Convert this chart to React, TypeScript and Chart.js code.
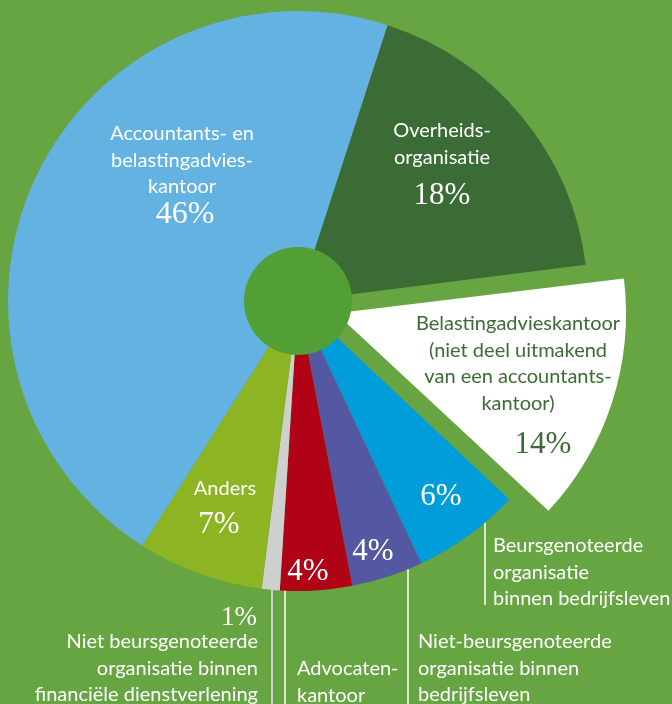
import { useEffect, useRef } from "react";
import { Chart, registerables } from "chart.js";

Chart.register(...registerables);

// ---- data ----
const categories = [
  "Accountants- en belastingadvieskantoor",
  "Overheidsorganisatie",
  "Belastingadvieskantoor (niet deel uitmakend van een accountantskantoor)",
  "Beursgenoteerde organisatie binnen bedrijfsleven",
  "Niet-beursgenoteerde organisatie binnen bedrijfsleven",
  "Advocatenkantoor",
  "Niet beursgenoteerde organisatie binnen financiële dienstverlening",
  "Anders",
];
const shares = [46, 18, 14, 6, 4, 4, 1, 7];
const percentLabels = ["46%", "18%", "14%", "6%", "4%", "4%", "1%", "7%"];
const labelLines = [
  ["Accountants- en", "belastingadvies-", "kantoor"],
  ["Overheids-", "organisatie"],
  ["Belastingadvieskantoor", "(niet deel uitmakend", "van een accountants-", "kantoor)"],
  ["Beursgenoteerde", "organisatie", "binnen bedrijfsleven"],
  ["Niet-beursgenoteerde", "organisatie binnen", "bedrijfsleven"],
  ["Advocaten-", "kantoor"],
  ["Niet beursgenoteerde", "organisatie binnen", "financiële dienstverlening"],
  ["Anders"],
];

// ---- styles / layout ----
const sliceColors = ["#63b2e2", "#3b6c35", "#ffffff", "#009ddb", "#5458a2", "#b00315", "#cdd0cf", "#8cb423"];
const sliceOffsets = [0, 0, 160, 0, 0, 0, 0, 0];
const textColors = ["#ffffff", "#ffffff", "#3b6c35", "#ffffff", "#ffffff", "#ffffff", "#ffffff", "#ffffff"];
const BG = "#67a542";
const HOLE = "#529f35";
const SANS = "Lato, 'Open Sans', sans-serif";
const SERIF = "'Liberation Serif', 'DejaVu Serif', serif";
const LINE_H = 26.5;
const PIE_R = 290;

// text positions relative to pie centre: [dx, dy of first baseline, align]
const textPlacement: [number, number, CanvasTextAlign][] = [
  [-116, -161, "center"],
  [144, -164, "center"],
  [220, 29, "center"],
  [195, 251, "left"],
  [120, 347, "left"],
  [-1, 374, "left"],
  [-40, 347, "right"],
  [-73, 194, "center"],
];
// percent positions relative to pie centre: [dx, dy baseline, align, size]
const pctPlacement: [number, number, CanvasTextAlign, number][] = [
  [-113, -78, "center", 32],
  [144, -97, "center", 31],
  [245, 152, "center", 31],
  [143, 204, "center", 31],
  [75, 259, "center", 31],
  [10, 279, "center", 31],
  [-41, 324, "right", 27],
  [-79, 232, "center", 31],
];
// leader lines: [dx from centre, end y (absolute, null = bottom), colour, width]
const leaders: [number, number | null, string, number][] = [
  [-26, null, "#cdd0cf", 2],
  [-13, null, "#ffffff", 1.5],
  [110, null, "#ffffff", 1.5],
  [187, 605, "#ffffff", 1.5],
];

const decorPlugin = {
  id: "decor",
  beforeDraw(chart: any) {
    const { ctx, width, height } = chart;
    ctx.save();
    ctx.fillStyle = BG;
    ctx.fillRect(0, 0, width, height);
    ctx.restore();
  },
  beforeDatasetsDraw(chart: any) {
    // keep exploded slices at the same outer radius as the rest
    chart.getDatasetMeta(0).data.forEach((el: any, i: number) => {
      const off = sliceOffsets[i] || 0;
      if (!off) return;
      const circ = el.endAngle - el.startAngle;
      const fix = 1 - Math.sin(Math.min(Math.PI, circ));
      el.outerRadius = PIE_R - (off / 4) * fix;
    });
  },
  afterDatasetsDraw(chart: any) {
    const { ctx, height } = chart;
    const arc = chart.getDatasetMeta(0).data[0];
    const cx = arc.x;
    const cy = arc.y;
    const R = arc.outerRadius;
    ctx.save();
    // centre disc
    ctx.beginPath();
    ctx.arc(cx, cy, 54, 0, Math.PI * 2);
    ctx.fillStyle = HOLE;
    ctx.fill();
    // leader lines
    leaders.forEach(([dx, endY, col, w]) => {
      const y0 = cy + Math.sqrt(Math.max(R * R - dx * dx, 0));
      ctx.beginPath();
      ctx.moveTo(cx + dx, y0);
      ctx.lineTo(cx + dx, endY == null ? height : endY);
      ctx.strokeStyle = col;
      ctx.lineWidth = w;
      ctx.stroke();
    });
    // labels
    ctx.textBaseline = "alphabetic";
    labelLines.forEach((lines, i) => {
      const [dx, dy, align] = textPlacement[i];
      ctx.fillStyle = textColors[i];
      ctx.textAlign = align;
      ctx.font = `20px ${SANS}`;
      lines.forEach((t, j) => ctx.fillText(t, cx + dx, cy + dy + j * LINE_H));
      const [px, py, pa, ps] = pctPlacement[i];
      ctx.textAlign = pa;
      ctx.font = `${ps}px ${SERIF}`;
      ctx.fillText(percentLabels[i], cx + px, cy + py);
    });
    ctx.restore();
  },
};

export default function App() {
  const ref = useRef<HTMLCanvasElement | null>(null);
  useEffect(() => {
    if (!ref.current) return;
    const chart = new Chart(ref.current, {
      type: "pie",
      data: {
        labels: categories,
        datasets: [
          {
            data: shares,
            backgroundColor: sliceColors,
            borderWidth: 0,
            offset: sliceOffsets,
            rotation: 212.4,
            radius: PIE_R,
            cutout: 0,
          } as any,
        ],
      },
      options: {
        responsive: false,
        maintainAspectRatio: false,
        animation: false,
        events: [],
        layout: { padding: { left: 0, right: 76, top: 0, bottom: 102 } },
        plugins: { legend: { display: false }, tooltip: { enabled: false } },
      },
      plugins: [decorPlugin],
    });
    return () => chart.destroy();
  }, []);
  return (
    <div style={{ position: "fixed", left: 0, top: 0, width: 672, height: 704, background: BG }}>
      <canvas ref={ref} width={672} height={704} style={{ display: "block" }} />
    </div>
  );
}
